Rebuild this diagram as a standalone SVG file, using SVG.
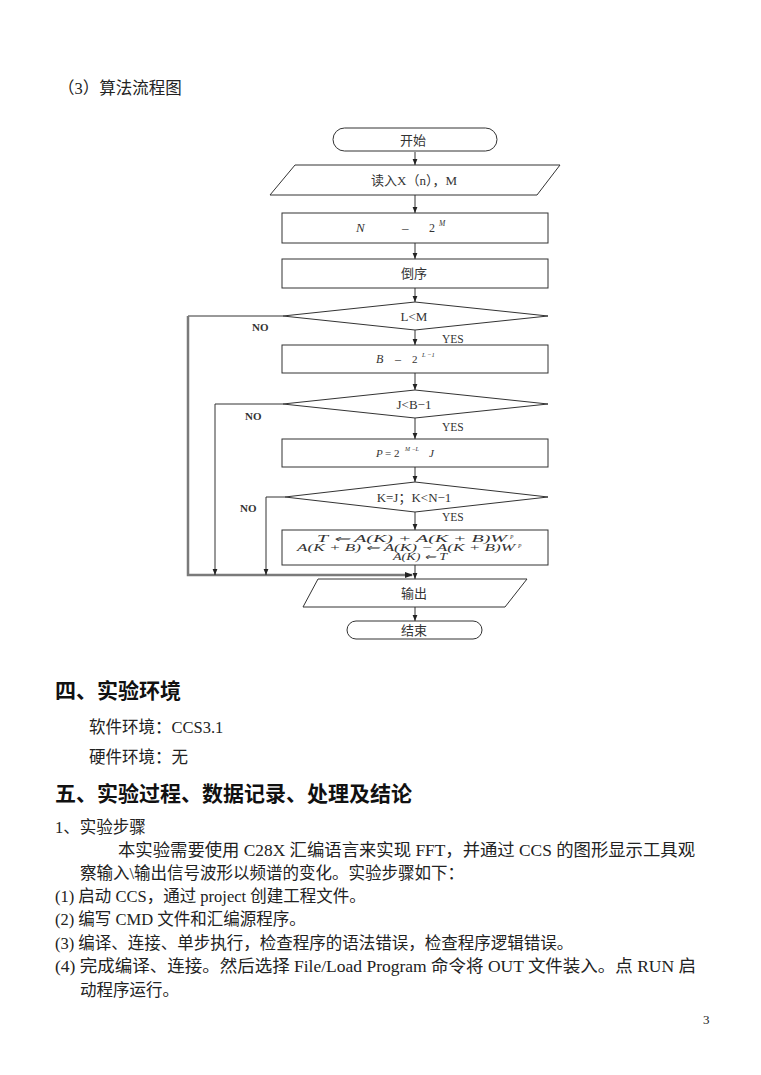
<svg xmlns="http://www.w3.org/2000/svg" width="761" height="1075" viewBox="0 0 761 1075">
<style>
.sh{fill:#fff;stroke:#333;stroke-width:1}
.ln{fill:none;stroke:#333;stroke-width:1}
.gl{fill:none;stroke:#7a7a7a;stroke-width:2.5}
.cj{font-family:"Liberation Serif","Noto Sans CJK SC",serif;fill:#222}
.fc{font-family:"Liberation Serif","Noto Sans CJK SC",serif;fill:#333;font-size:13px;text-anchor:middle}
.m{font-family:"Liberation Serif",serif;font-style:italic;fill:#333}
.u{font-family:"Liberation Serif",serif;fill:#333}
.lb{font-family:"Liberation Serif",serif;font-weight:bold;fill:#333;font-size:11px}
.ys{font-family:"Liberation Serif",serif;fill:#333;font-size:11.5px}
.body{font-size:16.5px}
.h{font-family:"Noto Sans CJK SC",sans-serif;font-weight:bold;font-size:21px;fill:#111}
</style>
<defs>
<marker id="ah" viewBox="0 0 8 8" refX="8" refY="4" markerWidth="6" markerHeight="6" orient="auto" markerUnits="userSpaceOnUse">
<path d="M0,0.8 L8,4 L0,7.2 Z" fill="#222"/>
</marker>
</defs>
<rect width="761" height="1075" fill="#fff"/>

<text class="cj body" x="58" y="94">（3）算法流程图</text>

<g id="connectors">
<line class="ln" x1="415" y1="152" x2="415" y2="165" marker-end="url(#ah)"/>
<line class="ln" x1="415" y1="195" x2="415" y2="213" marker-end="url(#ah)"/>
<line class="ln" x1="415" y1="243" x2="415" y2="259" marker-end="url(#ah)"/>
<line class="ln" x1="415" y1="288" x2="415" y2="302" marker-end="url(#ah)"/>
<line class="ln" x1="415" y1="330" x2="415" y2="345" marker-end="url(#ah)"/>
<line class="ln" x1="415" y1="373" x2="415" y2="390" marker-end="url(#ah)"/>
<line class="ln" x1="415" y1="418" x2="415" y2="439" marker-end="url(#ah)"/>
<line class="ln" x1="415" y1="467" x2="415" y2="482" marker-end="url(#ah)"/>
<line class="ln" x1="415" y1="512" x2="415" y2="530" marker-end="url(#ah)"/>
<line class="ln" x1="415" y1="565" x2="415" y2="579" marker-end="url(#ah)"/>
<line class="ln" x1="415" y1="607" x2="415" y2="621" marker-end="url(#ah)"/>
<polyline class="ln" points="283,316 188,316"/>
<polyline class="gl" points="188,316 188,575 412,575"/>
<path d="M405,572 L413,575 L405,578 Z" fill="#222"/>
<polyline class="ln" points="283,404 215,404 215,575" marker-end="url(#ah)"/>
<polyline class="ln" points="285,497 266,497 266,575" marker-end="url(#ah)"/>
<text class="lb" x="252" y="331">NO</text>
<text class="lb" x="245" y="420">NO</text>
<text class="lb" x="240" y="512">NO</text>
<text class="ys" x="442" y="343">YES</text>
<text class="ys" x="442" y="431">YES</text>
<text class="ys" x="442" y="521">YES</text>
</g>

<g id="start">
<rect class="sh" x="333" y="128" width="164" height="23" rx="11.5"/>
<text class="fc" x="413" y="144.5">开始</text>
</g>

<g id="input">
<polygon class="sh" points="295,165 560,165 537,195 270,195"/>
<text class="fc" x="414" y="184.5" font-size="12.5">读入X（n），M</text>
</g>

<g id="n-box">
<rect class="sh" x="282" y="213" width="266" height="30"/>
<text class="m" x="356" y="232" font-size="13">N</text>
<text class="u" x="402" y="232" font-size="13">–</text>
<text class="u" x="429" y="232" font-size="12">2</text>
<text class="m" x="439" y="226" font-size="7.5">M</text>
</g>

<g id="reverse">
<rect class="sh" x="282" y="259" width="266" height="29"/>
<text class="fc" x="414" y="278">倒序</text>
</g>

<g id="cond-l">
<polygon class="sh" points="415,302 548,316 415,330 283,316"/>
<text class="fc" x="414" y="320.5" font-size="12">L&lt;M</text>
</g>

<g id="b-box">
<rect class="sh" x="282" y="345" width="266" height="28"/>
<text class="m" x="376" y="363" font-size="12">B</text>
<text class="u" x="395" y="363" font-size="12">–</text>
<text class="u" x="412" y="363" font-size="11">2</text>
<text class="m" x="422" y="357" font-size="6.5">L −1</text>
</g>

<g id="cond-j">
<polygon class="sh" points="415,390 548,404 415,418 283,404"/>
<text class="fc" x="414" y="408.5" font-size="12">J&lt;B−1</text>
</g>

<g id="p-box">
<rect class="sh" x="282" y="439" width="266" height="28"/>
<text class="m" x="376" y="457" font-size="11">P</text>
<text class="u" x="385" y="457" font-size="11">= 2</text>
<text class="m" x="405" y="451" font-size="6">M −L</text>
<text class="m" x="429" y="457" font-size="11">J</text>
</g>

<g id="butterfly">
<rect class="sh" x="282" y="530" width="266" height="35"/>
<text class="m" x="317" y="542" font-size="9.5" textLength="190" lengthAdjust="spacingAndGlyphs">T ⇐ A(K) + A(K + B)W</text>
<text class="m" x="510" y="539" font-size="5.5" fill="#bbb">P</text>
<text class="m" x="297" y="551" font-size="9.5" textLength="218" lengthAdjust="spacingAndGlyphs">A(K + B) ⇐ A(K) − A(K + B)W</text>
<text class="m" x="518" y="548" font-size="5.5" fill="#bbb">P</text>
<text class="m" x="393" y="560" font-size="9.5" textLength="54" lengthAdjust="spacingAndGlyphs">A(K) ⇐ T</text>
</g>

<g id="cond-k">
<polygon class="sh" points="415,482 548,497 415,512 285,497"/>
<text class="fc" x="414" y="501.5" font-size="12">K=J；K&lt;N−1</text>
</g>

<g id="output">
<polygon class="sh" points="318,579 527,579 505,607 303,607"/>
<text class="fc" x="414" y="597.5">输出</text>
</g>

<g id="end">
<rect class="sh" x="347" y="621" width="135" height="18" rx="9"/>
<text class="fc" x="414" y="635">结束</text>
</g>

<text class="h" x="55" y="698">四、实验环境</text>
<text class="cj body" x="89" y="733">软件环境：CCS3.1</text>
<text class="cj body" x="89" y="763">硬件环境：无</text>
<text class="h" x="55" y="801">五、实验过程、数据记录、处理及结论</text>
<text class="cj body" x="55" y="833">1、实验步骤</text>
<text class="cj body" x="118" y="856" textLength="577" lengthAdjust="spacingAndGlyphs">本实验需要使用 C28X 汇编语言来实现 FFT，并通过 CCS 的图形显示工具观</text>
<text class="cj body" x="80" y="879">察输入\输出信号波形以频谱的变化。实验步骤如下：</text>
<text class="cj body" x="55" y="902">(1) 启动 CCS，通过 project 创建工程文件。</text>
<text class="cj body" x="55" y="925">(2) 编写 CMD 文件和汇编源程序。</text>
<text class="cj body" x="55" y="949">(3) 编译、连接、单步执行，检查程序的语法错误，检查程序逻辑错误。</text>
<text class="cj body" x="55" y="972" textLength="641" lengthAdjust="spacingAndGlyphs">(4) 完成编译、连接。然后选择 File/Load Program 命令将 OUT 文件装入。点 RUN 启</text>
<text class="cj body" x="80" y="996">动程序运行。</text>
<text class="cj" x="703" y="1024" font-size="13">3</text>
</svg>
